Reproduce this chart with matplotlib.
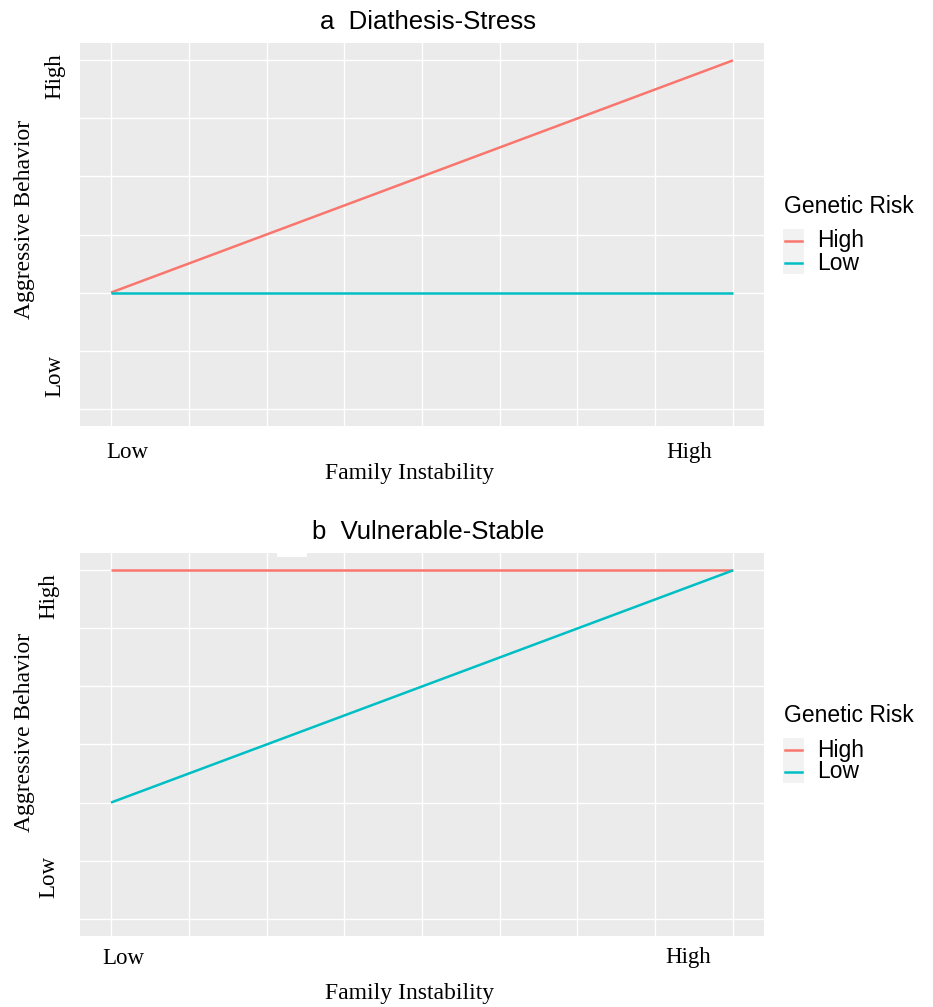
import matplotlib.pyplot as plt
from matplotlib.lines import Line2D
from matplotlib.patches import Rectangle

# ------------------------------------------------------------
# data
# ------------------------------------------------------------
instability = [0, 8]          # Low -> High family instability
grid_x = list(range(0, 9))
grid_y = list(range(0, 7))

high_risk_a = [2, 6]
low_risk_a = [2, 2]
high_risk_b = [6, 6]
low_risk_b = [2, 6]

titles = ["a  Diathesis-Stress", "b  Vulnerable-Stable"]
risk_labels = ["High", "Low"]
colors = ["#F8766D", "#00BFC4"]

W, H = 933, 1007
serif = "Liberation Serif"
sans = "Liberation Sans"


def fx(x):
    return x / W


def fy(y):
    return 1 - y / H


fig = plt.figure(figsize=(W / 100, H / 100), dpi=100)

panels = [
    (43, 426, high_risk_a, low_risk_a, 0),
    (553, 936, high_risk_b, low_risk_b, 510),
]

for i, (top, bottom, hi, lo, off) in enumerate(panels):
    ax = fig.add_axes([fx(80), fy(bottom), fx(764) - fx(80), (bottom - top) / H])
    ax.set_facecolor("#EBEBEB")
    for s in ax.spines.values():
        s.set_visible(False)
    ax.set_xlim(-0.4, 8.4)
    ax.set_ylim(-0.3, 6.3)
    ax.set_xticks(grid_x)
    ax.set_yticks(grid_y)
    ax.set_xticklabels([])
    ax.set_yticklabels([])
    ax.tick_params(length=0)
    ax.grid(True, color="white", linewidth=1.0)
    ax.set_axisbelow(True)

    ax.plot(instability, hi, color=colors[0], linewidth=1.8, solid_capstyle="butt")
    ax.plot(instability, lo, color=colors[1], linewidth=1.8, solid_capstyle="butt")

    # title
    fig.text(fx(428), fy(22 + off), titles[i], family=sans, fontsize=18.5,
             ha="center", va="center")

    # axis labels
    fig.text(fx(25), fy(219 + off + (3 if i else 0)), "Aggressive Behavior",
             family=serif, fontsize=17, rotation=90, ha="center", va="center")
    fig.text(fx(410), fy(473 + off + (10 if i else 0)), "Family Instability",
             family=serif, fontsize=17, ha="center", va="center")

    # tick labels
    ytick_x = 55 if i == 0 else 49
    fig.text(fx(ytick_x), fy(76 if i == 0 else 596), "High", family=serif,
             fontsize=16.5, rotation=90, ha="center", va="center")
    fig.text(fx(ytick_x), fy(376 if i == 0 else 877), "Low", family=serif,
             fontsize=16.5, rotation=90, ha="center", va="center")
    xt_y = 452 if i == 0 else 958
    fig.text(fx(127 if i == 0 else 123), fy(xt_y), "Low", family=serif,
             fontsize=16.5, ha="center", va="center")
    fig.text(fx(689 if i == 0 else 688), fy(xt_y), "High", family=serif,
             fontsize=16.5, ha="center", va="center")

    # legend
    lt = 207 if i == 0 else 716
    fig.text(fx(784), fy(lt), "Genetic Risk", family=sans, fontsize=16.5,
             ha="left", va="center")
    key_top = lt + 22
    fig.add_artist(Rectangle((fx(783), fy(key_top + 45)), fx(804) - fx(783), 45 / H,
                             transform=fig.transFigure, facecolor="#F2F2F2",
                             edgecolor="none"))
    for j, lab in enumerate(risk_labels):
        yy = key_top + 12 + j * 22
        fig.add_artist(Line2D([fx(785), fx(802)], [fy(yy), fy(yy)],
                              transform=fig.transFigure, color=colors[j],
                              linewidth=1.8))
        fig.text(fx(817), fy(yy), lab, family=sans, fontsize=16.5,
                 ha="left", va="center")

# small white patch over the top edge of panel b
fig.add_artist(Rectangle((fx(277), fy(557)), 30 / W, 5 / H,
                         transform=fig.transFigure, facecolor="white",
                         edgecolor="none"))

fig.savefig("out.png", dpi=100)
